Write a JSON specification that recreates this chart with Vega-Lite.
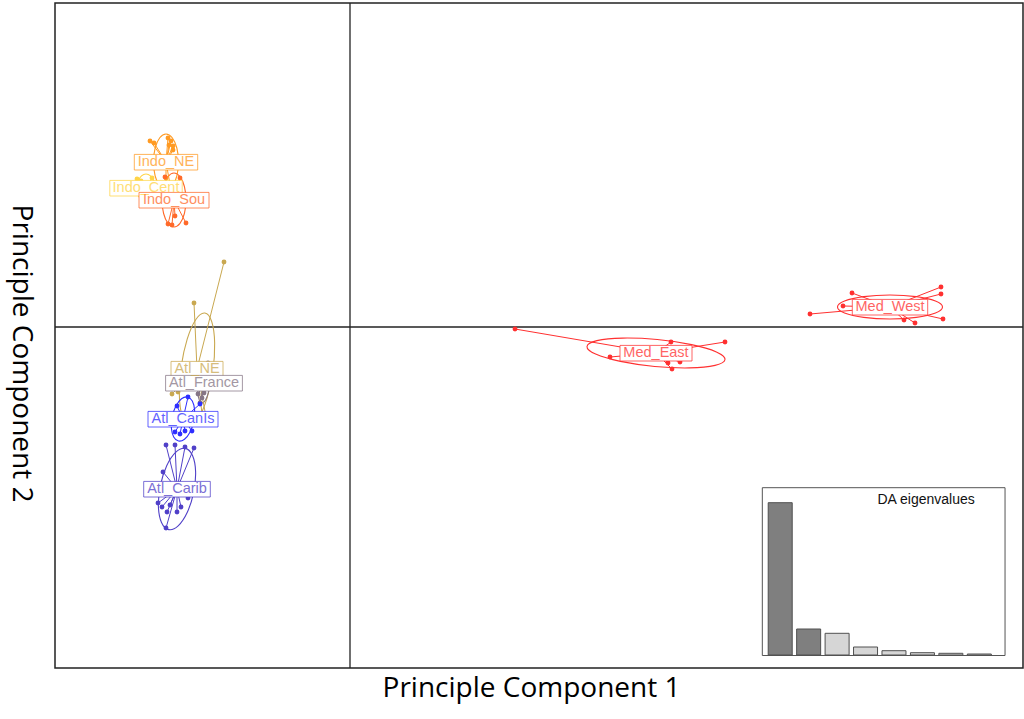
{
  "$schema": "https://vega.github.io/schema/vega-lite/v6.json",
  "width": 968,
  "height": 665,
  "autosize": "none",
  "padding": {"left": 55, "top": 3, "right": 1, "bottom": 51},
  "background": "white",
  "datasets": {
    "individuals": [
      {"grp": "Indo_NE", "x": -4.0, "y": 3.72}, {"grp": "Indo_NE", "x": -3.92, "y": 3.68}, {"grp": "Indo_NE", "x": -3.64, "y": 3.78},
      {"grp": "Indo_NE", "x": -3.58, "y": 3.72}, {"grp": "Indo_NE", "x": -3.62, "y": 3.64}, {"grp": "Indo_NE", "x": -3.54, "y": 3.62},
      {"grp": "Indo_NE", "x": -3.54, "y": 3.54}, {"grp": "Indo_NE", "x": -3.68, "y": 2.98}, {"grp": "Indo_NE", "x": -3.58, "y": 2.74},
      {"grp": "Indo_Cent", "x": -4.26, "y": 2.96}, {"grp": "Indo_Cent", "x": -3.96, "y": 2.98}, {"grp": "Indo_Cent", "x": -4.18, "y": 2.92},
      {"grp": "Indo_Cent", "x": -4.04, "y": 2.62},
      {"grp": "Indo_Sou", "x": -3.64, "y": 2.06}, {"grp": "Indo_Sou", "x": -3.56, "y": 2.04}, {"grp": "Indo_Sou", "x": -3.28, "y": 2.08},
      {"grp": "Indo_Sou", "x": -3.5, "y": 2.22}, {"grp": "Indo_Sou", "x": -3.7, "y": 3.0}, {"grp": "Indo_Sou", "x": -3.4, "y": 2.98},
      {"grp": "Atl_NE", "x": -2.52, "y": 1.30}, {"grp": "Atl_NE", "x": -3.12, "y": 0.48}, {"grp": "Atl_NE", "x": -3.56, "y": -1.34},
      {"grp": "Atl_NE", "x": -3.44, "y": -1.30}, {"grp": "Atl_NE", "x": -2.86, "y": -1.90}, {"grp": "Atl_NE", "x": -2.96, "y": -1.74},
      {"grp": "Atl_France", "x": -2.84, "y": -0.72}, {"grp": "Atl_France", "x": -3.04, "y": -1.34}, {"grp": "Atl_France", "x": -2.96, "y": -1.42},
      {"grp": "Atl_France", "x": -2.92, "y": -1.32}, {"grp": "Atl_France", "x": -3.0, "y": -1.52},
      {"grp": "Atl_CanIs", "x": -3.24, "y": -1.40}, {"grp": "Atl_CanIs", "x": -3.46, "y": -1.58}, {"grp": "Atl_CanIs", "x": -3.0, "y": -1.54},
      {"grp": "Atl_CanIs", "x": -3.5, "y": -2.10}, {"grp": "Atl_CanIs", "x": -3.4, "y": -2.14}, {"grp": "Atl_CanIs", "x": -3.3, "y": -2.08},
      {"grp": "Atl_CanIs", "x": -3.16, "y": -2.08},
      {"grp": "Atl_Carib", "x": -3.68, "y": -2.36}, {"grp": "Atl_Carib", "x": -3.5, "y": -2.36}, {"grp": "Atl_Carib", "x": -3.3, "y": -2.40},
      {"grp": "Atl_Carib", "x": -3.12, "y": -2.42}, {"grp": "Atl_Carib", "x": -3.74, "y": -2.90}, {"grp": "Atl_Carib", "x": -3.84, "y": -3.52},
      {"grp": "Atl_Carib", "x": -3.76, "y": -3.60}, {"grp": "Atl_Carib", "x": -3.66, "y": -3.70}, {"grp": "Atl_Carib", "x": -3.6, "y": -3.56},
      {"grp": "Atl_Carib", "x": -3.46, "y": -3.70}, {"grp": "Atl_Carib", "x": -3.38, "y": -3.60}, {"grp": "Atl_Carib", "x": -3.24, "y": -3.42},
      {"grp": "Atl_Carib", "x": -3.68, "y": -4.02},
      {"grp": "Med_East", "x": 3.30, "y": -0.04}, {"grp": "Med_East", "x": 6.42, "y": -0.30}, {"grp": "Med_East", "x": 7.50, "y": -0.30},
      {"grp": "Med_East", "x": 5.20, "y": -0.60}, {"grp": "Med_East", "x": 6.36, "y": -0.72}, {"grp": "Med_East", "x": 6.44, "y": -0.84},
      {"grp": "Med_East", "x": 6.60, "y": -0.70},
      {"grp": "Med_West", "x": 9.20, "y": 0.26}, {"grp": "Med_West", "x": 9.86, "y": 0.42}, {"grp": "Med_West", "x": 10.04, "y": 0.68},
      {"grp": "Med_West", "x": 11.82, "y": 0.80}, {"grp": "Med_West", "x": 11.82, "y": 0.66}, {"grp": "Med_West", "x": 11.08, "y": 0.14},
      {"grp": "Med_West", "x": 11.30, "y": 0.08}, {"grp": "Med_West", "x": 11.86, "y": 0.16}
    ],
    "groups": [
      {"grp": "Indo_NE", "cx": -3.68, "cy": 3.30},
      {"grp": "Indo_Cent", "cx": -4.08, "cy": 2.78},
      {"grp": "Indo_Sou", "cx": -3.52, "cy": 2.54},
      {"grp": "Atl_NE", "cx": -3.06, "cy": -0.84},
      {"grp": "Atl_France", "cx": -2.92, "cy": -1.12},
      {"grp": "Atl_CanIs", "cx": -3.34, "cy": -1.84},
      {"grp": "Atl_Carib", "cx": -3.46, "cy": -3.24},
      {"grp": "Med_East", "cx": 6.12, "cy": -0.52},
      {"grp": "Med_West", "cx": 10.8, "cy": 0.40}
    ],
    "ellipses": [
      {"grp": "Indo_NE", "k": 0, "x": -3.68, "y": 3.86}, {"grp": "Indo_NE", "k": 1, "x": -3.805, "y": 3.785}, {"grp": "Indo_NE", "k": 2, "x": -3.897, "y": 3.58},
      {"grp": "Indo_NE", "k": 3, "x": -3.93, "y": 3.30}, {"grp": "Indo_NE", "k": 4, "x": -3.897, "y": 3.02}, {"grp": "Indo_NE", "k": 5, "x": -3.805, "y": 2.815},
      {"grp": "Indo_NE", "k": 6, "x": -3.68, "y": 2.74}, {"grp": "Indo_NE", "k": 7, "x": -3.555, "y": 2.815}, {"grp": "Indo_NE", "k": 8, "x": -3.463, "y": 3.02},
      {"grp": "Indo_NE", "k": 9, "x": -3.43, "y": 3.30}, {"grp": "Indo_NE", "k": 10, "x": -3.463, "y": 3.58}, {"grp": "Indo_NE", "k": 11, "x": -3.555, "y": 3.785},
      {"grp": "Indo_Cent", "k": 0, "x": -4.08, "y": 3.06}, {"grp": "Indo_Cent", "k": 1, "x": -4.17, "y": 3.022}, {"grp": "Indo_Cent", "k": 2, "x": -4.236, "y": 2.92},
      {"grp": "Indo_Cent", "k": 3, "x": -4.26, "y": 2.78}, {"grp": "Indo_Cent", "k": 4, "x": -4.236, "y": 2.64}, {"grp": "Indo_Cent", "k": 5, "x": -4.17, "y": 2.538},
      {"grp": "Indo_Cent", "k": 6, "x": -4.08, "y": 2.50}, {"grp": "Indo_Cent", "k": 7, "x": -3.99, "y": 2.538}, {"grp": "Indo_Cent", "k": 8, "x": -3.924, "y": 2.64},
      {"grp": "Indo_Cent", "k": 9, "x": -3.90, "y": 2.78}, {"grp": "Indo_Cent", "k": 10, "x": -3.924, "y": 2.92}, {"grp": "Indo_Cent", "k": 11, "x": -3.99, "y": 3.022},
      {"grp": "Indo_Sou", "k": 0, "x": -3.52, "y": 3.08}, {"grp": "Indo_Sou", "k": 1, "x": -3.64, "y": 3.008}, {"grp": "Indo_Sou", "k": 2, "x": -3.728, "y": 2.81},
      {"grp": "Indo_Sou", "k": 3, "x": -3.76, "y": 2.54}, {"grp": "Indo_Sou", "k": 4, "x": -3.728, "y": 2.27}, {"grp": "Indo_Sou", "k": 5, "x": -3.64, "y": 2.072},
      {"grp": "Indo_Sou", "k": 6, "x": -3.52, "y": 2.00}, {"grp": "Indo_Sou", "k": 7, "x": -3.40, "y": 2.072}, {"grp": "Indo_Sou", "k": 8, "x": -3.312, "y": 2.27},
      {"grp": "Indo_Sou", "k": 9, "x": -3.28, "y": 2.54}, {"grp": "Indo_Sou", "k": 10, "x": -3.312, "y": 2.81}, {"grp": "Indo_Sou", "k": 11, "x": -3.40, "y": 3.008},
      {"grp": "Atl_NE", "k": 0, "x": -2.903, "y": 0.279}, {"grp": "Atl_NE", "k": 1, "x": -3.083, "y": 0.151}, {"grp": "Atl_NE", "k": 2, "x": -3.256, "y": -0.242},
      {"grp": "Atl_NE", "k": 3, "x": -3.377, "y": -0.796}, {"grp": "Atl_NE", "k": 4, "x": -3.413, "y": -1.361}, {"grp": "Atl_NE", "k": 5, "x": -3.3545, "y": -1.787},
      {"grp": "Atl_NE", "k": 6, "x": -3.217, "y": -1.959}, {"grp": "Atl_NE", "k": 7, "x": -3.0375, "y": -1.831}, {"grp": "Atl_NE", "k": 8, "x": -2.864, "y": -1.438},
      {"grp": "Atl_NE", "k": 9, "x": -2.743, "y": -0.8845}, {"grp": "Atl_NE", "k": 10, "x": -2.707, "y": -0.319}, {"grp": "Atl_NE", "k": 11, "x": -2.7655, "y": 0.107},
      {"grp": "Atl_France", "k": 0, "x": -2.88, "y": -0.722}, {"grp": "Atl_France", "k": 1, "x": -2.945, "y": -0.769}, {"grp": "Atl_France", "k": 2, "x": -3.003, "y": -0.911},
      {"grp": "Atl_France", "k": 3, "x": -3.039, "y": -1.108}, {"grp": "Atl_France", "k": 4, "x": -3.043, "y": -1.309}, {"grp": "Atl_France", "k": 5, "x": -3.014, "y": -1.459},
      {"grp": "Atl_France", "k": 6, "x": -2.96, "y": -1.518}, {"grp": "Atl_France", "k": 7, "x": -2.895, "y": -1.471}, {"grp": "Atl_France", "k": 8, "x": -2.837, "y": -1.329},
      {"grp": "Atl_France", "k": 9, "x": -2.801, "y": -1.132}, {"grp": "Atl_France", "k": 10, "x": -2.797, "y": -0.931}, {"grp": "Atl_France", "k": 11, "x": -2.826, "y": -0.781},
      {"grp": "Atl_CanIs", "k": 0, "x": -3.25, "y": -1.399}, {"grp": "Atl_CanIs", "k": 1, "x": -3.37, "y": -1.436}, {"grp": "Atl_CanIs", "k": 2, "x": -3.482, "y": -1.581},
      {"grp": "Atl_CanIs", "k": 3, "x": -3.556, "y": -1.796}, {"grp": "Atl_CanIs", "k": 4, "x": -3.572, "y": -2.022}, {"grp": "Atl_CanIs", "k": 5, "x": -3.526, "y": -2.200},
      {"grp": "Atl_CanIs", "k": 6, "x": -3.43, "y": -2.281}, {"grp": "Atl_CanIs", "k": 7, "x": -3.31, "y": -2.244}, {"grp": "Atl_CanIs", "k": 8, "x": -3.198, "y": -2.099},
      {"grp": "Atl_CanIs", "k": 9, "x": -3.124, "y": -1.884}, {"grp": "Atl_CanIs", "k": 10, "x": -3.108, "y": -1.658}, {"grp": "Atl_CanIs", "k": 11, "x": -3.154, "y": -1.48},
      {"grp": "Atl_Carib", "k": 0, "x": -3.294, "y": -2.427}, {"grp": "Atl_Carib", "k": 1, "x": -3.483, "y": -2.502}, {"grp": "Atl_Carib", "k": 2, "x": -3.666, "y": -2.774},
      {"grp": "Atl_Carib", "k": 3, "x": -3.793, "y": -3.172}, {"grp": "Atl_Carib", "k": 4, "x": -3.832, "y": -3.588}, {"grp": "Atl_Carib", "k": 5, "x": -3.77, "y": -3.91},
      {"grp": "Atl_Carib", "k": 6, "x": -3.626, "y": -4.053}, {"grp": "Atl_Carib", "k": 7, "x": -3.437, "y": -3.978}, {"grp": "Atl_Carib", "k": 8, "x": -3.254, "y": -3.706},
      {"grp": "Atl_Carib", "k": 9, "x": -3.127, "y": -3.308}, {"grp": "Atl_Carib", "k": 10, "x": -3.088, "y": -2.892}, {"grp": "Atl_Carib", "k": 11, "x": -3.15, "y": -2.57},
      {"grp": "Med_East", "k": 0, "x": 7.5, "y": -0.65}, {"grp": "Med_East", "k": 1, "x": 7.328, "y": -0.498}, {"grp": "Med_East", "k": 2, "x": 6.832, "y": -0.352},
      {"grp": "Med_East", "k": 3, "x": 6.145, "y": -0.251}, {"grp": "Med_East", "k": 4, "x": 5.452, "y": -0.222}, {"grp": "Med_East", "k": 5, "x": 4.938, "y": -0.273},
      {"grp": "Med_East", "k": 6, "x": 4.74, "y": -0.39}, {"grp": "Med_East", "k": 7, "x": 4.912, "y": -0.542}, {"grp": "Med_East", "k": 8, "x": 5.408, "y": -0.688},
      {"grp": "Med_East", "k": 9, "x": 6.095, "y": -0.789}, {"grp": "Med_East", "k": 10, "x": 6.788, "y": -0.818}, {"grp": "Med_East", "k": 11, "x": 7.302, "y": -0.767},
      {"grp": "Med_West", "k": 0, "x": 11.85, "y": 0.40}, {"grp": "Med_West", "k": 1, "x": 11.709, "y": 0.52}, {"grp": "Med_West", "k": 2, "x": 11.325, "y": 0.608},
      {"grp": "Med_West", "k": 3, "x": 10.8, "y": 0.64}, {"grp": "Med_West", "k": 4, "x": 10.275, "y": 0.608}, {"grp": "Med_West", "k": 5, "x": 9.891, "y": 0.52},
      {"grp": "Med_West", "k": 6, "x": 9.75, "y": 0.40}, {"grp": "Med_West", "k": 7, "x": 9.891, "y": 0.28}, {"grp": "Med_West", "k": 8, "x": 10.275, "y": 0.192},
      {"grp": "Med_West", "k": 9, "x": 10.8, "y": 0.16}, {"grp": "Med_West", "k": 10, "x": 11.325, "y": 0.192}, {"grp": "Med_West", "k": 11, "x": 11.709, "y": 0.28}
    ],
    "eigenvalues": [
      {"axis": 1, "eig": 152.3}, {"axis": 2, "eig": 26.0}, {"axis": 3, "eig": 21.7}, {"axis": 4, "eig": 8.0},
      {"axis": 5, "eig": 4.3}, {"axis": 6, "eig": 2.3}, {"axis": 7, "eig": 1.7}, {"axis": 8, "eig": 1.0}
    ]
  },
  "resolve": {"scale": {"x": "independent", "y": "independent"}},
  "layer": [
    {
      "data": {"values": [{}]},
      "mark": {"type": "rule", "color": "#222", "strokeWidth": 1.3},
      "encoding": {
        "x": {"datum": 0, "type": "quantitative", "axis": null,
              "scale": {"domain": [-5.9, 13.46], "nice": false, "zero": false}}
      }
    },
    {
      "data": {"values": [{}]},
      "mark": {"type": "rule", "color": "#222", "strokeWidth": 1.3},
      "encoding": {
        "y": {"datum": 0, "type": "quantitative", "axis": null,
              "scale": {"domain": [-6.82, 6.48], "nice": false, "zero": false}}
      }
    },
    {
      "data": {"name": "ellipses"},
      "mark": {"type": "line", "interpolate": "cardinal-closed", "strokeWidth": 1.1},
      "encoding": {
        "x": {"field": "x", "type": "quantitative",
              "scale": {"domain": [-5.9, 13.46], "nice": false, "zero": false},
              "axis": {"title": "Principle Component 1", "titleFont": "Open Sans", "titleFontSize": 28,
                       "titleFontWeight": "normal", "titleColor": "#000", "titleX": 476, "titleY": 28,
                       "titleAlign": "center", "titleBaseline": "alphabetic", "titleAngle": 0,
                       "labels": false, "ticks": false, "domain": false, "grid": false}},
        "y": {"field": "y", "type": "quantitative",
              "scale": {"domain": [-6.82, 6.48], "nice": false, "zero": false},
              "axis": {"title": "Principle Component 2", "titleFont": "Open Sans", "titleFontSize": 28,
                       "titleFontWeight": "normal", "titleColor": "#000", "titleX": -43, "titleY": 350,
                       "titleAlign": "center", "titleBaseline": "alphabetic", "titleAngle": 90,
                       "labels": false, "ticks": false, "domain": false, "grid": false}},
        "color": {"field": "grp", "type": "nominal", "legend": null,
                  "scale": {"domain": ["Indo_NE", "Indo_Cent", "Indo_Sou", "Atl_NE", "Atl_France", "Atl_CanIs", "Atl_Carib", "Med_East", "Med_West"],
                            "range": ["#FF9A22", "#FFD447", "#FF6A2A", "#C9A850", "#857585", "#2E2EFF", "#5040C8", "#FF3030", "#FF3030"]}},
        "order": {"field": "k", "type": "quantitative"}
      }
    },
    {
      "data": {"name": "individuals"},
      "transform": [
        {"lookup": "grp", "from": {"data": {"name": "groups"}, "key": "grp", "fields": ["cx", "cy"]}}
      ],
      "mark": {"type": "rule", "strokeWidth": 1},
      "encoding": {
        "x": {"field": "x", "type": "quantitative", "axis": null,
              "scale": {"domain": [-5.9, 13.46], "nice": false, "zero": false}},
        "y": {"field": "y", "type": "quantitative", "axis": null,
              "scale": {"domain": [-6.82, 6.48], "nice": false, "zero": false}},
        "x2": {"field": "cx"},
        "y2": {"field": "cy"},
        "color": {"field": "grp", "type": "nominal", "legend": null}
      }
    },
    {
      "data": {"name": "individuals"},
      "mark": {"type": "point", "filled": true, "opacity": 1, "size": 24},
      "encoding": {
        "x": {"field": "x", "type": "quantitative", "axis": null,
              "scale": {"domain": [-5.9, 13.46], "nice": false, "zero": false}},
        "y": {"field": "y", "type": "quantitative", "axis": null,
              "scale": {"domain": [-6.82, 6.48], "nice": false, "zero": false}},
        "color": {"field": "grp", "type": "nominal", "legend": null}
      }
    },
    {
      "data": {"name": "groups"},
      "mark": {"type": "point", "filled": false, "size": 400, "strokeWidth": 1, "fill": "white", "fillOpacity": 1, "strokeOpacity": 0.75, "opacity": 1},
      "encoding": {
        "x": {"field": "cx", "type": "quantitative", "axis": null,
              "scale": {"domain": [-5.9, 13.46], "nice": false, "zero": false}},
        "y": {"field": "cy", "type": "quantitative", "axis": null,
              "scale": {"domain": [-6.82, 6.48], "nice": false, "zero": false}},
        "stroke": {"field": "grp", "type": "nominal", "legend": null,
                   "scale": {"domain": ["Indo_NE", "Indo_Cent", "Indo_Sou", "Atl_NE", "Atl_France", "Atl_CanIs", "Atl_Carib", "Med_East", "Med_West"],
                             "range": ["#FF9A22", "#FFD447", "#FF6A2A", "#C9A850", "#857585", "#2E2EFF", "#5040C8", "#FF3030", "#FF3030"]}},
        "shape": {"field": "grp", "type": "nominal", "legend": null,
                  "scale": {"domain": ["Indo_NE", "Indo_Cent", "Indo_Sou", "Atl_NE", "Atl_France", "Atl_CanIs", "Atl_Carib", "Med_East", "Med_West"],
                            "range": ["M-3.17,-0.76H3.17V0.8H-3.17Z", "M-3.62,-0.76H3.62V0.8H-3.62Z", "M-3.5,-0.76H3.5V0.8H-3.5Z",
                                      "M-2.6,-0.76H2.6V0.8H-2.6Z", "M-3.84,-0.76H3.84V0.8H-3.84Z", "M-3.5,-0.76H3.5V0.8H-3.5Z",
                                      "M-3.33,-0.76H3.33V0.8H-3.33Z", "M-3.6,-0.76H3.6V0.8H-3.6Z", "M-3.77,-0.76H3.77V0.8H-3.77Z"]}}
      }
    },
    {
      "data": {"name": "groups"},
      "mark": {"type": "text", "font": "Liberation Sans", "fontSize": 14.5, "align": "center", "baseline": "alphabetic", "dy": 3.6, "opacity": 0.75},
      "encoding": {
        "x": {"field": "cx", "type": "quantitative", "axis": null,
              "scale": {"domain": [-5.9, 13.46], "nice": false, "zero": false}},
        "y": {"field": "cy", "type": "quantitative", "axis": null,
              "scale": {"domain": [-6.82, 6.48], "nice": false, "zero": false}},
        "text": {"field": "grp"},
        "color": {"field": "grp", "type": "nominal", "legend": null}
      }
    },
    {
      "data": {"values": [{}]},
      "mark": {"type": "rect", "fill": "white", "stroke": "#555", "strokeWidth": 1},
      "encoding": {
        "x": {"datum": 0.29, "type": "quantitative", "scale": {"domain": [-24.32, 9.36], "nice": false, "zero": false}, "axis": null},
        "x2": {"datum": 8.735},
        "y": {"datum": -0.5, "type": "quantitative", "scale": {"domain": [-13, 652], "nice": false, "zero": false}, "axis": null},
        "y2": {"datum": 167.3}
      }
    },
    {
      "data": {"name": "eigenvalues"},
      "mark": {"type": "bar", "orient": "vertical", "width": 24, "stroke": "#505050", "strokeWidth": 1},
      "encoding": {
        "x": {"field": "axis", "type": "quantitative", "axis": null,
              "scale": {"domain": [-24.32, 9.36], "nice": false, "zero": false}},
        "y": {"field": "eig", "type": "quantitative", "axis": null,
              "scale": {"domain": [-13, 652], "nice": false, "zero": false}},
        "fill": {"condition": {"test": "datum.axis <= 2", "value": "#7f7f7f"}, "value": "#d6d6d6"}
      }
    },
    {
      "data": {"values": [{"label": "DA eigenvalues"}]},
      "mark": {"type": "text", "font": "Liberation Sans", "fontSize": 14, "align": "center", "baseline": "middle", "color": "#111"},
      "encoding": {
        "x": {"datum": 5.99, "type": "quantitative", "axis": null,
              "scale": {"domain": [-24.32, 9.36], "nice": false, "zero": false}},
        "y": {"datum": 155, "type": "quantitative", "axis": null,
              "scale": {"domain": [-13, 652], "nice": false, "zero": false}},
        "text": {"field": "label"}
      }
    }
  ],
  "config": {
    "view": {"stroke": "#222", "strokeWidth": 1.5}
  }
}
